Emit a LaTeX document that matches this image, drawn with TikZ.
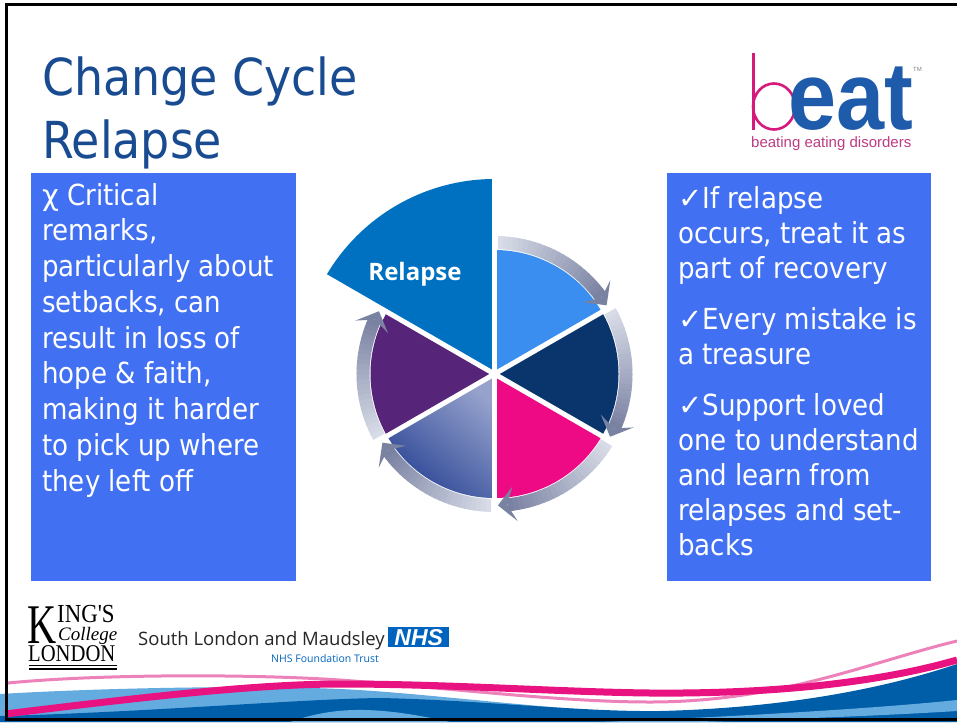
\documentclass[tikz,border=0pt]{standalone}
\usepackage{fontspec}
\usepackage{graphicx}
\setmainfont{DejaVu Sans Condensed}
\newfontfamily\bodyfont{DejaVu Sans Condensed}
\newfontfamily\symfont{DejaVu Sans}
\newfontfamily\labelfont{Open Sans}
\newfontfamily\arialfont{Liberation Sans}
\newfontfamily\seriffont{Liberation Serif}
\newcommand\chkmark{{\symfont ✓}}

\definecolor{titleblue}{RGB}{25,75,145}
\definecolor{boxblue}{RGB}{65,112,242}
\definecolor{segA}{RGB}{58,142,240}
\definecolor{segB}{RGB}{10,53,108}
\definecolor{segC}{RGB}{238,10,132}
\definecolor{segDdark}{RGB}{44,70,150}
\definecolor{segDlight}{RGB}{150,162,204}
\definecolor{segE}{RGB}{86,36,120}
\definecolor{segRel}{RGB}{0,112,192}
\definecolor{ringlight}{RGB}{216,220,232}
\definecolor{ringdark}{RGB}{122,130,162}
\definecolor{beatpink}{RGB}{214,25,122}
\definecolor{beatblue}{RGB}{30,91,170}
\definecolor{beattag}{RGB}{190,60,130}
\definecolor{nhsblue}{RGB}{0,100,190}
\definecolor{wavelight}{RGB}{100,172,224}
\definecolor{wavedark}{RGB}{0,94,168}
\definecolor{wavepink}{RGB}{232,18,128}
\definecolor{wavepinklight}{RGB}{236,130,185}

\tikzset{
  bodytext/.style={anchor=base west, inner sep=0, text=white,
    font=\bodyfont\fontsize{29}{35}\selectfont},
  titletext/.style={anchor=base west, inner sep=0, text=titleblue,
    font=\bodyfont\fontsize{51}{60}\selectfont},
  panel/.style={fill=boxblue, draw=none, anchor=north west, inner sep=0},
}

\begin{document}
\begin{tikzpicture}[x=1pt,y=-1pt]
\useasboundingbox (0,0) rectangle (957,722);
\fill[white] (0,0) rectangle (957,722);

% ---- title ----
\node[titletext] (title1) at (42,96) {Change Cycle};
\node[titletext] (title2) at (42,158) {Relapse};

% ---- side panels ----
\node[panel, minimum width=265, minimum height=408] (leftpanel) at (31,173) {};
\node[panel, minimum width=264, minimum height=408] (rightpanel) at (667,173) {};

\foreach \t [count=\i] in {{{\symfont χ} Critical},{remarks,},particularly about,
  {setbacks, can},result in loss of,{hope \& faith,},making it harder,
  to pick up where,they left off}
  \node[bodytext] (left\i) at (42,{205+35.75*(\i-1)}) {\t};

\foreach \yy/\t [count=\i] in {208/{\chkmark If relapse},243/{occurs, treat it as},
  278/part of recovery,329/{\chkmark Every mistake is},364/a treasure,
  415/{\chkmark Support loved},450/one to understand,485/and learn from,
  520/relapses and set-,555/backs}
  \node[bodytext] (right\i) at (678,\yy) {\t};

% ---- cycle wheel ----
\begin{scope}[shift={(494.5,374)}, yscale=-1]
  \fill[segRel] (0,0) -- (90:195) arc[start angle=90, end angle=150, radius=195] -- cycle;
  \fill[segA] (0,0) -- (90:124) arc[start angle=90, end angle=30, radius=124] -- cycle;
  \fill[segB] (0,0) -- (30:124) arc[start angle=30, end angle=-30, radius=124] -- cycle;
  \fill[segC] (0,0) -- (-30:124) arc[start angle=-30, end angle=-90, radius=124] -- cycle;
  \shade[top color=segDlight, bottom color=segDdark, shading angle=-40]
    (0,0) -- (-90:124) arc[start angle=-90, end angle=-150, radius=124] -- cycle;
  \fill[segE] (0,0) -- (-150:124) arc[start angle=-150, end angle=-210, radius=124] -- cycle;
  % gaps between segments
  \foreach \a/\r in {90/200,150/200,30/127,-30/127,-90/127,-150/127}
    \draw[white, line width=5] (0,0) -- (\a:\r);
  % arrows around the wheel
  \foreach \B in {90,30,-30,-90,-150} {
    \pgfmathsetmacro\tBeg{\B-1.5}
    \pgfmathsetmacro\tEnd{\B-58.5}
    \pgfmathsetmacro\tBack{\tEnd+4.5}
    \foreach \k in {0,...,23} {
      \pgfmathsetmacro\aa{\tBeg-\k*(\tBeg-\tBack)/24}
      \pgfmathsetmacro\ab{\tBeg-(\k+1)*(\tBeg-\tBack)/24-0.4}
      \pgfmathtruncatemacro\pc{\k*100/23}
      \fill[ringdark!\pc!ringlight] (\aa:125) arc[start angle=\aa, end angle=\ab, radius=125]
        -- (\ab:138) arc[start angle=\ab, end angle=\aa, radius=138] -- cycle;
    }
    \fill[ringdark] (\tEnd:131.5) -- ({\tEnd+7.5}:149) -- ({\tEnd+4}:131.5)
      -- ({\tEnd+7.5}:114) -- cycle;
  }
\end{scope}
\node[anchor=base, inner sep=0, text=white, font=\labelfont\bfseries\fontsize{24}{28}\selectfont]
  (rel) at (415,280) {Relapse};

% ---- beat logo ----
\draw[beatpink, line width=2.6] (753.5,53) -- (753.5,130);
\draw[beatpink, line width=2.6] (774,106.5) ellipse [x radius=21, y radius=23];
\node[anchor=base west, inner sep=0, text depth=0pt, text=beatblue,
  font=\arialfont\bfseries\fontsize{96}{96}\selectfont]
  (beateat) at (788,130) {\scalebox{0.9}[1]{eat}};
\node[anchor=base west, inner sep=0, text=gray, font=\arialfont\fontsize{6}{6}\selectfont]
  (beattm) at (913,72) {TM};
\node[anchor=base west, inner sep=0, text=beattag, font=\arialfont\fontsize{15}{16}\selectfont]
  (beatline) at (751,148) {beating eating disorders};

% ---- King's College London logo ----
\node[anchor=base west, inner sep=0, font=\seriffont\fontsize{56}{56}\selectfont]
  (kclk) at (27,643) {\scalebox{0.72}[1]{K}};
\node[anchor=base west, inner sep=0, font=\seriffont\fontsize{26}{26}\selectfont]
  (kcling) at (57,622) {\scalebox{0.88}[1]{ING'S}};
\node[anchor=base west, inner sep=0, font=\seriffont\itshape\fontsize{19}{19}\selectfont]
  (kclcol) at (58,640) {College};
\node[anchor=base west, inner sep=0, font=\seriffont\fontsize{24}{24}\selectfont]
  (kcllon) at (28,661) {\scalebox{0.86}[1]{LONDON}};
\draw[line width=1.2] (29,665.5) -- (117,665.5);
\draw[line width=1.2] (29,669) -- (117,669);

% ---- trust name and NHS mark ----
\node[anchor=base west, inner sep=0, text=black!85, font=\labelfont\fontsize{18.5}{20}\selectfont]
  (slam) at (138,645) {South London and Maudsley};
\node[fill=nhsblue, anchor=north west, inner sep=0, minimum width=61, minimum height=20]
  (nhs) at (388,627) {};
\node[text=white, inner sep=0, font=\arialfont\bfseries\itshape\fontsize{23}{23}\selectfont]
  (nhstext) at (nhs.center) {NHS};
\node[anchor=base west, inner sep=0, text=nhsblue, font=\labelfont\fontsize{10.5}{12}\selectfont]
  (trust) at (271,662) {NHS Foundation Trust};

% ---- bottom waves ----
\fill[wavelight] (0,694) .. controls (100,688) and (250,685) .. (340,689)
  .. controls (430,693) and (560,712) .. (700,716) -- (957,716) -- (957,722) -- (0,722) -- cycle;
\fill[wavedark] (0,716) .. controls (150,712) and (300,699) .. (380,698)
  .. controls (480,700) and (580,712) .. (660,711)
  .. controls (780,708) and (880,690) .. (957,664) -- (957,722) -- (0,722) -- cycle;
\fill[wavelight] (290,722) .. controls (330,708) and (370,704) .. (450,722) -- cycle;
\fill[wavelight] (600,722) .. controls (750,716) and (880,708) .. (957,700)
  -- (957,711) .. controls (880,716) and (760,720) .. (700,722) -- cycle;
\draw[wavepinklight, line width=3] (8,683) .. controls (100,674) and (250,674) .. (340,680)
  .. controls (450,688) and (560,702) .. (650,702)
  .. controls (780,702) and (870,662) .. (957,641);
\draw[wavepink, line width=7] (5,714) .. controls (120,700) and (250,684) .. (340,684)
  .. controls (450,684) and (560,692) .. (650,693)
  .. controls (760,694) and (870,685) .. (957,660);

% ---- frame ----
\draw[line width=3] (957,5) -- (6.5,5) -- (6.5,719.5) -- (957,719.5);
\end{tikzpicture}
\end{document}
